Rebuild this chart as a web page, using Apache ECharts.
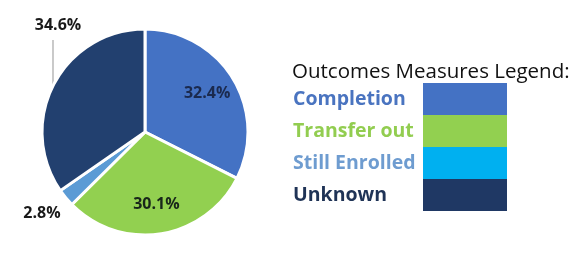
<!DOCTYPE html>
<html>
<head>
<meta charset="utf-8">
<script src="https://cdn.jsdelivr.net/npm/echarts@6/dist/echarts.min.js"></script>
<style>
html,body{margin:0;padding:0;background:#fff;}
#chart{width:585px;height:270px;}
</style>
</head>
<body>
<div id="chart"></div>
<script>
const categories = ['Completion', 'Transfer out', 'Still Enrolled', 'Unknown'];
const values = [32.4, 30.1, 2.8, 34.6];
const legendTitle = 'Outcomes Measures Legend:';

const pieColors = ['#4472C4', '#92D050', '#5B9BD5', '#22406F'];
const legendBoxColors = ['#4472C4', '#92D050', '#00B0F0', '#1F3864'];
const legendTextColors = ['#4A74C0', '#92CD50', '#6E9CD0', '#1F3356'];
const labelColors = ['#1B2A4E', '#18261A', '#1A1A1A', '#1A1A1A'];

const CX = 145, CY = 132, R = 103;
const FONT = '"Open Sans", Lato, sans-serif';

const chart = echarts.init(document.getElementById('chart'), null, {renderer: 'canvas'});

const rich = {};
categories.forEach((c, i) => {
  rich['c' + i] = {
    width: 125, align: 'left', color: legendTextColors[i],
    fontSize: 19.5, fontWeight: 'bold', fontFamily: FONT
  };
});

const data = categories.map((c, i) => ({
  name: c,
  value: values[i],
  itemStyle: {color: pieColors[i]},
  label: {
    position: (i < 2) ? 'inside' : 'outside',
    color: labelColors[i]
  },
  labelLine: {show: i === 3}
}));

chart.setOption({
  animation: false,
  backgroundColor: '#fff',
  title: {
    text: legendTitle,
    left: 287,
    top: 57,
    textStyle: {fontSize: 20.5, fontWeight: 'normal', color: '#111', fontFamily: FONT}
  },
  legend: {
    orient: 'vertical',
    left: 288,
    top: 78,
    itemWidth: 84,
    itemHeight: 32,
    itemGap: 0,
    align: 'right',
    icon: 'rect',
    selectedMode: false,
    itemStyle: {borderWidth: 0},
    formatter: function (name) {
      const i = categories.indexOf(name);
      return '{c' + i + '|' + name + '}';
    },
    textStyle: {rich: rich},
    data: categories.map((c, i) => ({name: c, itemStyle: {color: legendBoxColors[i], borderWidth: 0}}))
  },
  series: [{
    type: 'pie',
    center: [CX, CY],
    radius: R,
    startAngle: 90,
    clockwise: true,
    avoidLabelOverlap: false,
    itemStyle: {borderColor: '#fff', borderWidth: 3},
    label: {
      show: true,
      formatter: function (p) { return p.value.toFixed(1) + '%'; },
      fontSize: 16,
      fontWeight: 'bold',
      fontFamily: FONT
    },
    labelLine: {lineStyle: {color: '#A6A6A6', width: 1.2}},
    labelLayout: function (p) {
      const r = p.labelRect;
      const lx = r.x + r.width / 2, ly = r.y + r.height / 2;
      if (p.dataIndex < 2) {
        return {dx: (lx - CX) * 0.34, dy: (ly - CY) * 0.34};
      }
      if (p.dataIndex === 2) {
        return {x: 42, y: 213, align: 'center', verticalAlign: 'middle'};
      }
      return {
        x: 58, y: 25, align: 'center', verticalAlign: 'middle',
        labelLinePoints: [[53, 86], [53, 40], [53, 40]]
      };
    },
    data: data
  }]
});
</script>
</body>
</html>
